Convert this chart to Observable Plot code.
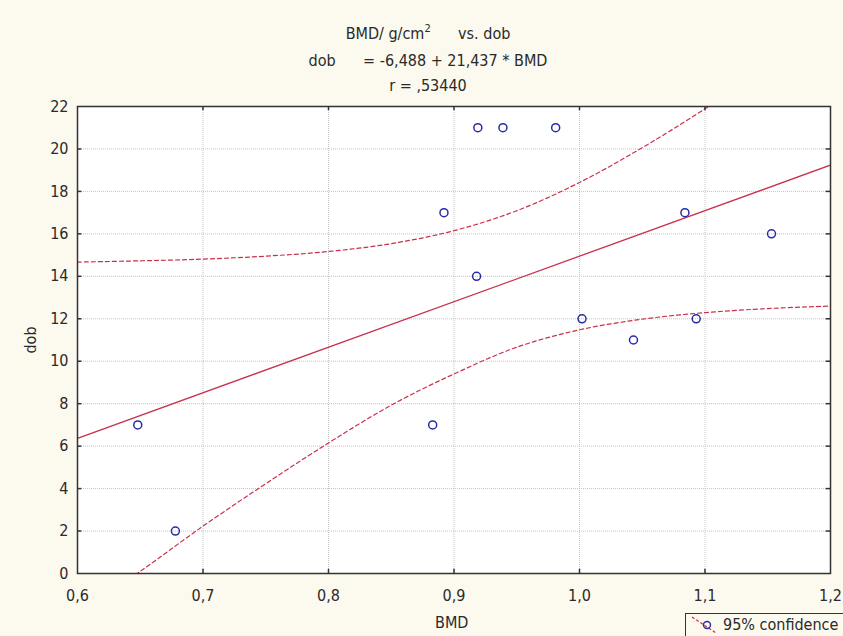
<!DOCTYPE html>
<html><head><meta charset="utf-8">
<script src="https://cdn.jsdelivr.net/npm/d3@7"></script>
<script src="https://cdn.jsdelivr.net/npm/@observablehq/plot@0.6"></script>
<style>
body{margin:0;background:#fcf9ee;}
#wrap{position:relative;width:843px;height:636px;overflow:hidden;background:#fcf9ee;font-family:"Liberation Sans Narrow","DejaVu Sans Condensed","Liberation Sans",sans-serif;font-stretch:condensed;color:#2a2a2a;}
#chart{position:absolute;left:0;top:0;}
.t{position:absolute;left:0;width:856px;text-align:center;font-size:16px;line-height:20px;white-space:pre;}
.t sup{font-size:11px;line-height:0;vertical-align:7px;}
.lab{position:absolute;font-size:16px;line-height:20px;white-space:pre;}
#legend{position:absolute;left:685px;top:613px;width:170px;height:30px;border:1px solid #333;box-sizing:border-box;}
</style></head><body><div id="wrap">
<div id="chart"></div>
<div class="t" style="top:24px">BMD/ g/cm<sup>2</sup>      vs. dob</div>
<div class="t" style="top:51px">dob      = -6,488 + 21,437 * BMD</div>
<div class="t" style="top:76px">r = ,53440</div>
<div class="lab" style="left:435px;top:613px;">BMD</div>
<div class="lab" style="left:31px;top:340px;transform:translate(-50%,-50%) rotate(-90deg);">dob</div>
<div id="legend"><svg width="170" height="30" style="position:absolute;left:0;top:0;overflow:visible">
<line x1="6" y1="3" x2="30" y2="19" stroke="#c8304a" stroke-width="1.2" stroke-dasharray="3,2"/>
<circle cx="21" cy="11" r="3.5" fill="none" stroke="#2a2aa8" stroke-width="1.4"/>
</svg><span style="position:absolute;left:37px;top:1px;font-size:16px;line-height:20px;white-space:pre;">95% confidence</span></div>
</div>
<script>
// Observed points
const bmd = [0.648, 0.678, 0.883, 0.892, 0.918, 0.919, 0.939, 0.981, 1.002, 1.043, 1.084, 1.093, 1.153];
const dob = [7, 2, 7, 17, 14, 21, 21, 21, 12, 11, 17, 12, 16];
// Regression line endpoints
const fitX = [0.6, 1.2];
const fitY = [6.37, 19.24];
// 95% confidence band
const bandX = [0.60, 0.65, 0.70, 0.75, 0.80, 0.85, 0.90, 0.95, 1.00, 1.05, 1.10, 1.15, 1.20];
const upper = [14.67, 14.73, 14.81, 14.95, 15.17, 15.54, 16.15, 17.09, 18.42, 20.06, 21.89, 23.85, 25.88];
const lower = [-1.93, 0.10, 2.23, 4.23, 6.15, 7.93, 9.40, 10.66, 11.48, 11.98, 12.29, 12.48, 12.60];
// Ticks
const xTicks = [0.6, 0.7, 0.8, 0.9, 1.0, 1.1, 1.2];
const yTicks = [0, 2, 4, 6, 8, 10, 12, 14, 16, 18, 20, 22];

const pts = bmd.map((x, i) => ({x, y: dob[i]}));
const fit = fitX.map((x, i) => ({x, y: fitY[i]}));
const up = bandX.map((x, i) => ({x, y: upper[i]}));
const lo = bandX.map((x, i) => ({x, y: lower[i]}));
const xIn = xTicks.slice(1, -1);
const yIn = yTicks.slice(1, -1);

const red = "#c8304a";
const chart = Plot.plot({
  width: 843, height: 636,
  marginLeft: 77, marginRight: 13, marginTop: 106, marginBottom: 63,
  style: {background: "transparent", fontSize: "16px", fontFamily: '"Liberation Sans Narrow","DejaVu Sans Condensed","Liberation Sans",sans-serif', color: "#2a2a2a"},
  x: {domain: [0.6, 1.2]},
  y: {domain: [0, 22]},
  marks: [
    Plot.frame({fill: "white", stroke: "none"}),
    Plot.gridX(xIn, {stroke: "#c4c4c4", strokeOpacity: 1, strokeDasharray: "1,1"}),
    Plot.gridY(yIn, {stroke: "#c4c4c4", strokeOpacity: 1, strokeDasharray: "1,1"}),
    Plot.line(up, {x: "x", y: "y", stroke: red, strokeWidth: 1.2, strokeDasharray: "4,3", curve: "catmull-rom", clip: true}),
    Plot.line(lo, {x: "x", y: "y", stroke: red, strokeWidth: 1.2, strokeDasharray: "4,3", curve: "catmull-rom", clip: true}),
    Plot.line(fit, {x: "x", y: "y", stroke: red, strokeWidth: 1.3, clip: true}),
    Plot.dot(pts, {x: "x", y: "y", r: 4, stroke: "#2a2aa8", strokeWidth: 1.5, fill: "none"}),
    Plot.ruleX(xIn, {y1: 0, y2: 0.2, stroke: "#333", strokeWidth: 1.5}),
    Plot.ruleX(xIn, {y1: 22, y2: 21.8, stroke: "#333", strokeWidth: 1.5}),
    Plot.ruleY(yIn, {x1: 0.6, x2: 0.6035, stroke: "#333", strokeWidth: 1.5}),
    Plot.ruleY(yIn, {x1: 1.2, x2: 1.1965, stroke: "#333", strokeWidth: 1.5}),
    Plot.axisX({ticks: xTicks, tickSize: 0, tickPadding: 16, tickFormat: d => d.toFixed(1).replace(".", ","), label: null}),
    Plot.axisY({ticks: yTicks, tickSize: 0, tickPadding: 9, tickFormat: d => String(d), label: null}),
    Plot.frame({stroke: "#333", strokeWidth: 1.5})
  ]
});
document.getElementById("chart").appendChild(chart);
</script>
</body></html>
